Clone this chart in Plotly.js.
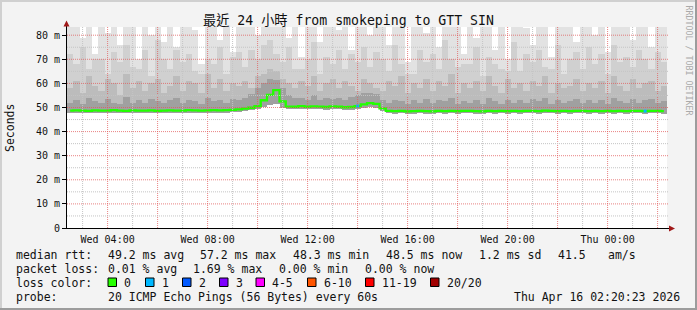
<!DOCTYPE html>
<html><head><meta charset="utf-8">
<script src="https://cdn.plot.ly/plotly-3.0.1.min.js"></script>
<style>html,body{margin:0;padding:0;background:#f3f3f3;}#chart{width:697px;height:310px;}</style>
</head><body><div id="chart"></div>
<script>
// time axis: hours since Wed 00:00, 15-minute columns
const startHour = 2.376;
const stepHours = 0.25;

const medianRtt = [
48.7,48.8,48.7,48.6,48.8,48.7,48.7,48.9,48.7,48.6,48.8,48.7,48.7,48.8,48.6,48.7,
48.8,48.7,48.7,48.9,48.8,48.7,48.8,48.9,48.8,48.9,49.0,49.2,49.5,49.9,
50.6,53.0,55.2,57.2,52.5,
50.4,50.3,50.6,50.3,50.5,50.4,50.2,50.5,50.3,50.1,50.2,50.6,
51.3,51.8,51.5,49.6,
48.6,48.5,48.6,48.4,48.5,48.6,48.5,48.4,48.6,48.5,48.6,48.5,48.6,48.6,48.5,48.4,48.6,48.5,48.6,48.5,
48.6,48.5,48.6,48.6,48.5,48.7,48.6,48.5,48.6,48.5,48.6,48.6,48.5,48.6,48.5,48.6,48.5,48.6,48.5,48.6,
48.6,48.5,48.6,48.6,48.5
];
const smokeLow = [
47.8,47.7,47.8,47.6,47.8,47.7,47.7,47.9,47.7,47.6,47.8,47.7,47.7,47.8,47.6,47.7,47.8,47.7,47.7,47.9,
47.8,47.7,47.8,47.9,47.8,47.9,48.0,48.2,48.4,48.8,
49.2,50.2,51.0,51.5,49.8,
49.3,49.2,49.4,49.2,49.4,49.3,49.1,49.4,49.2,49.0,49.1,49.4,49.9,50.2,50.0,48.6,
47.6,47.5,47.6,47.4,47.5,47.6,47.5,47.4,47.6,47.5,47.6,47.5,47.6,47.6,47.5,47.4,47.6,47.5,47.6,47.5,
47.6,47.5,47.6,47.6,47.5,47.7,47.6,47.5,47.6,47.5,47.6,47.6,47.5,47.6,47.5,47.6,47.5,47.6,47.5,47.6,
47.6,47.5,47.6,47.6,47.5
];
const smokeDark = [
52,53,51.5,54,52.5,52,53.5,52,51.5,54.5,52,53,52,53.5,52.5,52,
53,54,52,53,52.5,51.5,54,52.5,53,52,53.5,53,54,55.5,58,60,
62,61.5,58,55,54,54,53,55,53,54,53.5,54,53,54.5,55,56,
56,55.5,53,52,53,52.5,51.5,53,52,53.5,52,53,52.5,54,51.5,52.5,
52,53,51.5,54,52.5,51.5,53,52,53,52,53.5,52.5,54,51.5,53,52,
52.5,53.5,52,53,52,53,51.5,54,52.5,52,53.5,52,53,53.5,52,52.5
];
const smokeMid = [
58,61,56,63,59,57,62,60,55,64,58,61,57,60,62,56,
59,63,57,61,60,56,64,58,62,57,60,59,61,58,63,64,
66,65,62,60,58,61,59,63,57,60,62,58,61,59,57,62,
60,58,57,61,59,63,56,60,58,62,57,61,59,64,56,60,
58,61,57,63,59,56,62,58,60,57,61,59,63,56,60,58,
59,62,57,60,58,61,56,63,59,57,62,58,60,61,57,59
];
const smokeLight = [
72,68,75,66,70,70,64,73,69,76,67,66,74,63,78,70,
66,74,69,72,65,64,70,68,75,64,71,73,67,74,70,76,
78,72,69,75,66,66,70,77,64,71,68,74,66,72,69,75,
67,73,70,65,76,68,64,64,74,69,72,66,78,70,67,68,
68,75,63,71,68,66,65,77,65,72,69,74,67,66,76,64,
70,73,66,75,68,72,64,76,69,71,67,74,70,66,73,69
];
const smokeMax = [
84,84,79,84,72,84,81,84,76,84,84,70,84,80,84,77,
84,75,84,84,82,68,84,84,78,84,73,84,84,84,80,84,
84,84,84,79,84,71,84,84,77,84,84,82,84,74,84,84,
80,84,84,76,84,84,69,84,84,81,84,75,84,84,84,72,
84,79,84,84,74,84,70,84,84,83,76,84,84,71,84,84,
84,77,84,84,80,84,73,84,84,84,78,84,84,75,84,84
];
const lossOneIdx = [46, 92];

const yTickVals = [0,10,20,30,40,50,60,70,80];
const yTickText = ['0','10 m','20 m','30 m','40 m','50 m','60 m','70 m','80 m'];
const xTickVals = [4,6,8,10,12,14,16,18,20,22,24,26];
const xTickText = ['Wed 04:00','','Wed 08:00','','Wed 12:00','','Wed 16:00','','Wed 20:00','','Thu 00:00',''];

const lossLegend = [
  {label:'0', color:'#26ff00', bx:108, tx:123},
  {label:'1', color:'#00b8ff', bx:145.5, tx:160.5},
  {label:'2', color:'#0059ff', bx:182.5, tx:197.5},
  {label:'3', color:'#7e00ff', bx:219.5, tx:234.5},
  {label:'4-5', color:'#ff00ff', bx:256, tx:271},
  {label:'6-10', color:'#ff5500', bx:307.5, tx:322.5},
  {label:'11-19', color:'#ff0000', bx:365.5, tx:380.5},
  {label:'20/20', color:'#a10000', bx:430.5, tx:445.5}
];

const MONO = 'DejaVu Sans Mono, monospace';
const PL = 67, PR = 667, PT = 27, PB = 228;
const PX = p => (p - PL) / (PR - PL);
const PY = p => (PB - p) / (PB - PT);

const xs = medianRtt.map((_, i) => startHour + (i + 0.5) * stepHours);

function band(top, color) {
  return {type:'bar', x:xs, base:smokeLow, y: top.map((v,i)=>v-smokeLow[i]),
    width: stepHours, marker:{color:color, line:{width:0}}, hoverinfo:'skip', showlegend:false};
}
const traces = [
  band(smokeMax, '#e2e2e2'),
  band(smokeLight, '#d0d0d0'),
  band(smokeMid, '#bcbcbc'),
  band(smokeDark, '#a0a0a0'),
  {type:'scatter', mode:'lines', x:xs, y:medianRtt, line:{color:'#22ff00', width:2.3, shape:'hvh'},
   hoverinfo:'skip', showlegend:false},
  {type:'scatter', mode:'markers', x:lossOneIdx.map(i=>xs[i]), y:lossOneIdx.map(i=>medianRtt[i]),
   marker:{color:'#00b8ff', size:3, symbol:'square'}, hoverinfo:'skip', showlegend:false}
];

const shapes = [];
// grid (drawn above the smoke like rrdtool)
for (let h = 3; h <= 26; h++) {
  const major = h % 2 === 0;
  shapes.push({type:'line', xref:'x', yref:'paper', x0:h, x1:h, y0:0, y1:1, layer:'above',
    line:{color: major ? 'rgba(225,90,90,0.75)' : '#c4c4c4', width:1, dash:'1px,1px'}});
}
for (let v = 5; v <= 80; v += 5) {
  const major = v % 10 === 0;
  shapes.push({type:'line', xref:'paper', yref:'y', x0:0, x1:1.003, y0:v, y1:v, layer:'above',
    line:{color: major ? 'rgba(225,90,90,0.75)' : '#c4c4c4', width:1, dash:'1px,1px'}});
}
// axes and arrows
shapes.push({type:'line', xref:'paper', yref:'paper', x0:PX(66.5), x1:PX(66.5), y0:PY(228), y1:PY(25), layer:'above', line:{color:'#000', width:1}});
shapes.push({type:'line', xref:'paper', yref:'paper', x0:PX(62), x1:PX(670), y0:PY(228.5), y1:PY(228.5), layer:'above', line:{color:'#000', width:1}});
shapes.push({type:'path', xref:'paper', yref:'paper', layer:'above', fillcolor:'#a01818', line:{width:0},
  path:`M ${PX(63.5)} ${PY(26.5)} L ${PX(69.5)} ${PY(26.5)} L ${PX(66.5)} ${PY(20.5)} Z`});
shapes.push({type:'path', xref:'paper', yref:'paper', layer:'above', fillcolor:'#a01818', line:{width:0},
  path:`M ${PX(669)} ${PY(225.5)} L ${PX(669)} ${PY(231.5)} L ${PX(675)} ${PY(228.5)} Z`});
// outer frame
shapes.push({type:'line', xref:'paper', yref:'paper', x0:PX(0), x1:PX(697), y0:PY(1), y1:PY(1), line:{color:'#d0d0d0', width:2}});
shapes.push({type:'line', xref:'paper', yref:'paper', x0:PX(1), x1:PX(1), y0:PY(0), y1:PY(310), line:{color:'#d0d0d0', width:2}});
shapes.push({type:'line', xref:'paper', yref:'paper', x0:PX(696), x1:PX(696), y0:PY(0), y1:PY(310), line:{color:'#9c9c9c', width:2}});
shapes.push({type:'line', xref:'paper', yref:'paper', x0:PX(0), x1:PX(697), y0:PY(309), y1:PY(309), line:{color:'#9c9c9c', width:2}});
// loss colour boxes
lossLegend.forEach(d => shapes.push({type:'rect', xref:'paper', yref:'paper',
  x0:PX(d.bx), x1:PX(d.bx+8.5), y0:PY(278), y1:PY(286.5), fillcolor:d.color, line:{color:'#000', width:1}}));

const annotations = [];
function txt(s, px, py, opts) {
  annotations.push(Object.assign({text:s, xref:'paper', yref:'paper', x:PX(px), y:PY(py),
    xanchor:'left', yanchor:'middle', showarrow:false, borderpad:0,
    font:{family:MONO, size:11.5, color:'#111'}}, opts||{}));
}
// title
txt('最近 24 小時 from smokeping to GTT SIN', 348.5, 21,
  {xanchor:'center', font:{family:'DejaVu Sans Mono, Noto Sans CJK TC, monospace', size:13.2, color:'#111'}});
// y axis title
txt('Seconds', 10, 128, {xanchor:'center', textangle:-90});
// watermark
txt('RRDTOOL / TOBI OETIKER', 688.5, 60, {xanchor:'center', textangle:90,
  font:{family:MONO, size:8.3, color:'#aaaaaa'}});
// legend rows
const row1 = 254.5, row2 = 268.5, row3 = 282.5, row4 = 296.5;
txt('median rtt:', 15, row1);
txt('49.2 ms avg', 106.5, row1);
txt('57.2 ms max', 199.2, row1);
txt('48.3 ms min', 292, row1);
txt('48.5 ms now', 384.8, row1);
txt('1.2 ms sd', 478, row1);
txt('41.5', 557, row1);
txt('am/s', 606.5, row1);
txt('packet loss:', 15, row2);
txt('0.01 % avg', 106.5, row2);
txt('1.69 % max', 192.3, row2);
txt('0.00 % min', 278.1, row2);
txt('0.00 % now', 364, row2);
txt('loss color:', 15, row3);
lossLegend.forEach(d => txt(d.label, d.tx, row3));
txt('probe:', 15, row4);
txt('20 ICMP Echo Pings (56 Bytes) every 60s', 106.5, row4);
txt('Thu Apr 16 02:20:23 2026', 680.5, row4, {xanchor:'right'});

const layout = {
  width:697, height:310,
  margin:{l:PL, r:697-PR, t:PT, b:310-PB, pad:0},
  paper_bgcolor:'#f3f3f3', plot_bgcolor:'#ffffff',
  barmode:'overlay', bargap:0, showlegend:false,
  xaxis:{range:[startHour, startHour+24], tickmode:'array', tickvals:xTickVals, ticktext:xTickText,
    showgrid:false, zeroline:false, showline:false, ticks:'', ticklabelstandoff:4,
    tickfont:{family:MONO, size:10, color:'#111'}, fixedrange:true},
  yaxis:{range:[0, 83.4], tickmode:'array', tickvals:yTickVals, ticktext:yTickText,
    showgrid:false, zeroline:false, showline:false, ticks:'outside', ticklen:4, tickcolor:'#000', tickwidth:1,
    tickfont:{family:MONO, size:10, color:'#111'}, fixedrange:true},
  shapes:shapes, annotations:annotations
};
Plotly.newPlot('chart', traces, layout, {displayModeBar:false, staticPlot:true});
</script>
</body></html>
